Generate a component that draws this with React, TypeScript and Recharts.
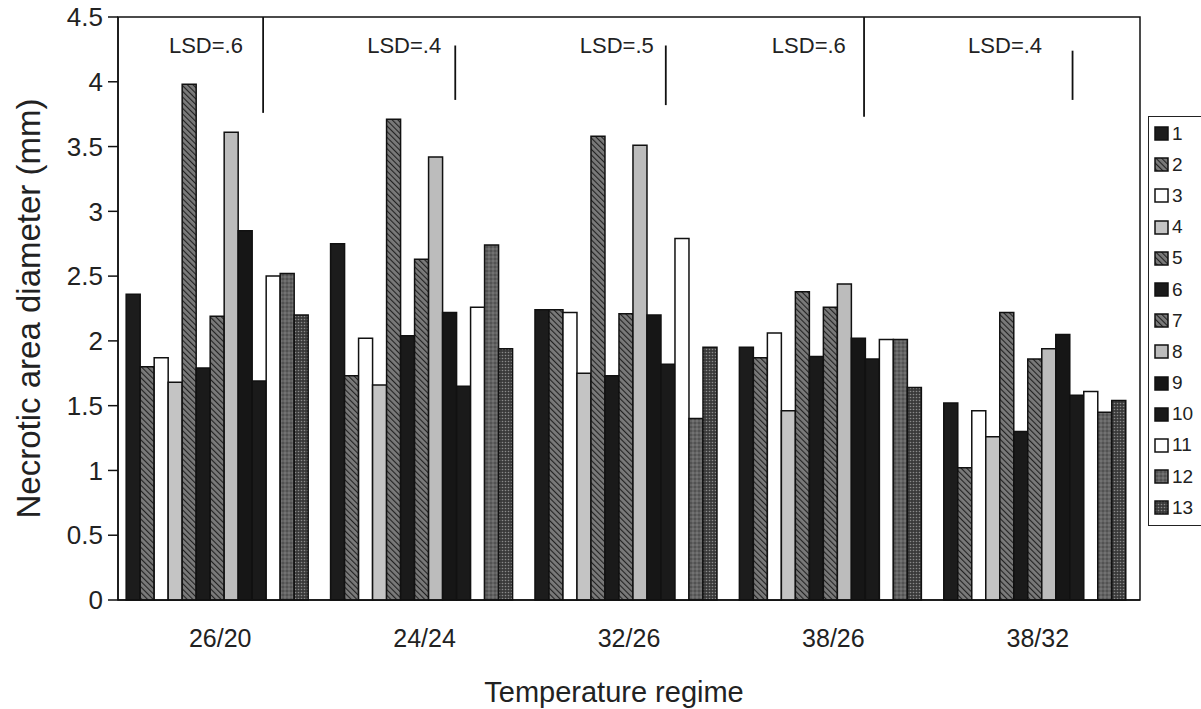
import React from 'react';
import {
  BarChart, Bar, XAxis, YAxis, Legend, ReferenceLine, ReferenceDot, ReferenceArea,
} from 'recharts';

// temperature regimes (day/night)
const categories = ['26/20', '24/24', '32/26', '38/26', '38/32'];

// necrotic area diameter (mm) for isolates 1..13, one value per regime
const s1 = [2.36, 2.75, 2.24, 1.95, 1.52];
const s2 = [1.80, 1.73, 2.24, 1.87, 1.02];
const s3 = [1.87, 2.02, 2.22, 2.06, 1.46];
const s4 = [1.68, 1.66, 1.75, 1.46, 1.26];
const s5 = [3.98, 3.71, 3.58, 2.38, 2.22];
const s6 = [1.79, 2.04, 1.73, 1.88, 1.30];
const s7 = [2.19, 2.63, 2.21, 2.26, 1.86];
const s8 = [3.61, 3.42, 3.51, 2.44, 1.94];
const s9 = [2.85, 2.22, 2.20, 2.02, 2.05];
const s10 = [1.69, 1.65, 1.82, 1.86, 1.58];
const s11 = [2.50, 2.26, 2.79, 2.01, 1.61];
const s12 = [2.52, 2.74, 1.40, 2.01, 1.45];
const s13 = [2.20, 1.94, 1.95, 1.64, 1.54];

const seriesNames = ['1', '2', '3', '4', '5', '6', '7', '8', '9', '10', '11', '12', '13'];
const seriesValues = [s1, s2, s3, s4, s5, s6, s7, s8, s9, s10, s11, s12, s13];

const yTicks = [0, 0.5, 1, 1.5, 2, 2.5, 3, 3.5, 4, 4.5];

// LSD annotations per regime (x in category units, 0..5 across the plot)
const lsdLabels = ['LSD=.6', 'LSD=.4', 'LSD=.5', 'LSD=.6', 'LSD=.4'];
const lsdTextX = [0.43, 1.40, 2.44, 3.38, 4.34];
const lsdLineX = [0.71, 1.65, 2.68, 3.65, 4.67];
const lsdTop = [4.5, 4.28, 4.28, 4.5, 4.24];
const lsdBottom = [3.76, 3.86, 3.82, 3.73, 3.86];

const fills = [
  '#1c1c1c', 'url(#hatch)', '#ffffff', '#c4c4c4', 'url(#hatch)', '#1a1a1a', 'url(#hatch)',
  '#bcbcbc', '#161616', '#1a1a1a', '#ffffff', 'url(#speck)', 'url(#dots)',
];

const data = categories.map((c, i) => {
  const row: any = { regime: c, pos: i + 0.5 };
  seriesNames.forEach((n, k) => { row['s' + n] = seriesValues[k][i]; });
  return row;
});

const FONT = '"Liberation Sans", Arial, sans-serif';

const LegendBox = () => (
  <div style={{
    border: '1.5px solid #222', background: '#fff', padding: '1px 0 2px 5px', width: 60,
    fontFamily: FONT, fontSize: 19, color: '#222', boxSizing: 'border-box',
  }}>
    {seriesNames.map((n, i) => (
      <div key={n} style={{ display: 'flex', alignItems: 'center', height: 31.2 }}>
        <svg width={15} height={15} style={{ marginRight: 3 }}>
          <rect x={1} y={1} width={13} height={13} fill={fills[i]} stroke="#111" strokeWidth={1.5} />
        </svg>
        <span>{n}</span>
      </div>
    ))}
  </div>
);

export default function App() {
  return (
    <div style={{ position: 'absolute', left: 0, top: 0, width: 1201, height: 709, background: '#fff' }}>
      <BarChart
        width={1201}
        height={709}
        data={data}
        margin={{ top: 17, right: 61, left: 0, bottom: 0 }}
        barCategoryGap="4%"
        barGap={0}
      >
        <defs>
          <pattern id="hatch" width="4" height="4" patternUnits="userSpaceOnUse" patternTransform="rotate(-45)">
            <rect width="4" height="4" fill="#7a7a7a" />
            <line x1="0" y1="0" x2="0" y2="4" stroke="#222" strokeWidth="2.2" />
          </pattern>
          <pattern id="dots" width="3" height="3" patternUnits="userSpaceOnUse">
            <rect width="3" height="3" fill="#3a3a3a" />
            <circle cx="1.5" cy="1.5" r="0.8" fill="#8a8a8a" />
          </pattern>
          <pattern id="speck" width="4" height="4" patternUnits="userSpaceOnUse">
            <rect width="4" height="4" fill="#636363" />
            <circle cx="1" cy="1" r="0.8" fill="#858585" />
            <circle cx="3" cy="3" r="0.8" fill="#3c3c3c" />
          </pattern>
        </defs>
        <XAxis
          dataKey="regime"
          height={109}
          axisLine={{ stroke: '#111', strokeWidth: 1.5 }}
          tickLine={false}
          tickMargin={23}
          tick={{ fontSize: 25, fill: '#222', fontFamily: FONT }}
          label={{ value: 'Temperature regime', position: 'insideBottom', offset: 7, dx: -15, fontSize: 29, fill: '#222', fontFamily: FONT }}
        />
        <XAxis xAxisId="pos" dataKey="pos" type="number" domain={[0, 5]} allowDataOverflow hide />
        <YAxis
          width={118}
          domain={[0, 4.5]}
          ticks={yTicks}
          interval={0}
          axisLine={{ stroke: '#111', strokeWidth: 1.5 }}
          tickLine={{ stroke: '#111', strokeWidth: 1.5 }}
          tickSize={10}
          tickMargin={5}
          tick={{ fontSize: 26, fill: '#222', fontFamily: FONT }}
          label={{ value: 'Necrotic area diameter (mm)', angle: -90, position: 'center', dx: -31, fontSize: 33, fill: '#222', fontFamily: FONT }}
        />
        <ReferenceArea xAxisId="pos" x1={0} x2={5} y1={0} y2={4.5} fill="none" stroke="#111" strokeWidth={1.5} ifOverflow="visible" />
        {seriesNames.map((n, i) => (
          <Bar
            key={n}
            dataKey={'s' + n}
            name={n}
            fill={fills[i]}
            stroke="#111"
            strokeWidth={1.5}
            isAnimationActive={false}
          />
        ))}
        {lsdLabels.map((t, i) => (
          <ReferenceLine
            key={'l' + i}
            xAxisId="pos"
            segment={[{ x: lsdLineX[i], y: lsdTop[i] }, { x: lsdLineX[i], y: lsdBottom[i] }]}
            stroke="#111"
            strokeWidth={1.8}
            ifOverflow="visible"
          />
        ))}
        {lsdLabels.map((t, i) => (
          <ReferenceDot
            key={'t' + i}
            xAxisId="pos"
            x={lsdTextX[i]}
            y={4.28}
            r={1}
            fill="none"
            stroke="none"
            ifOverflow="visible"
            label={{ value: t, position: 'center', fontSize: 22, fill: '#222', fontFamily: FONT }}
          />
        ))}
        <Legend
          layout="horizontal"
          verticalAlign="middle"
          align="center"
          content={() => <LegendBox />}
          wrapperStyle={{ position: 'absolute', left: 1148, top: 116, width: 60, height: 412 }}
        />
      </BarChart>
    </div>
  );
}
